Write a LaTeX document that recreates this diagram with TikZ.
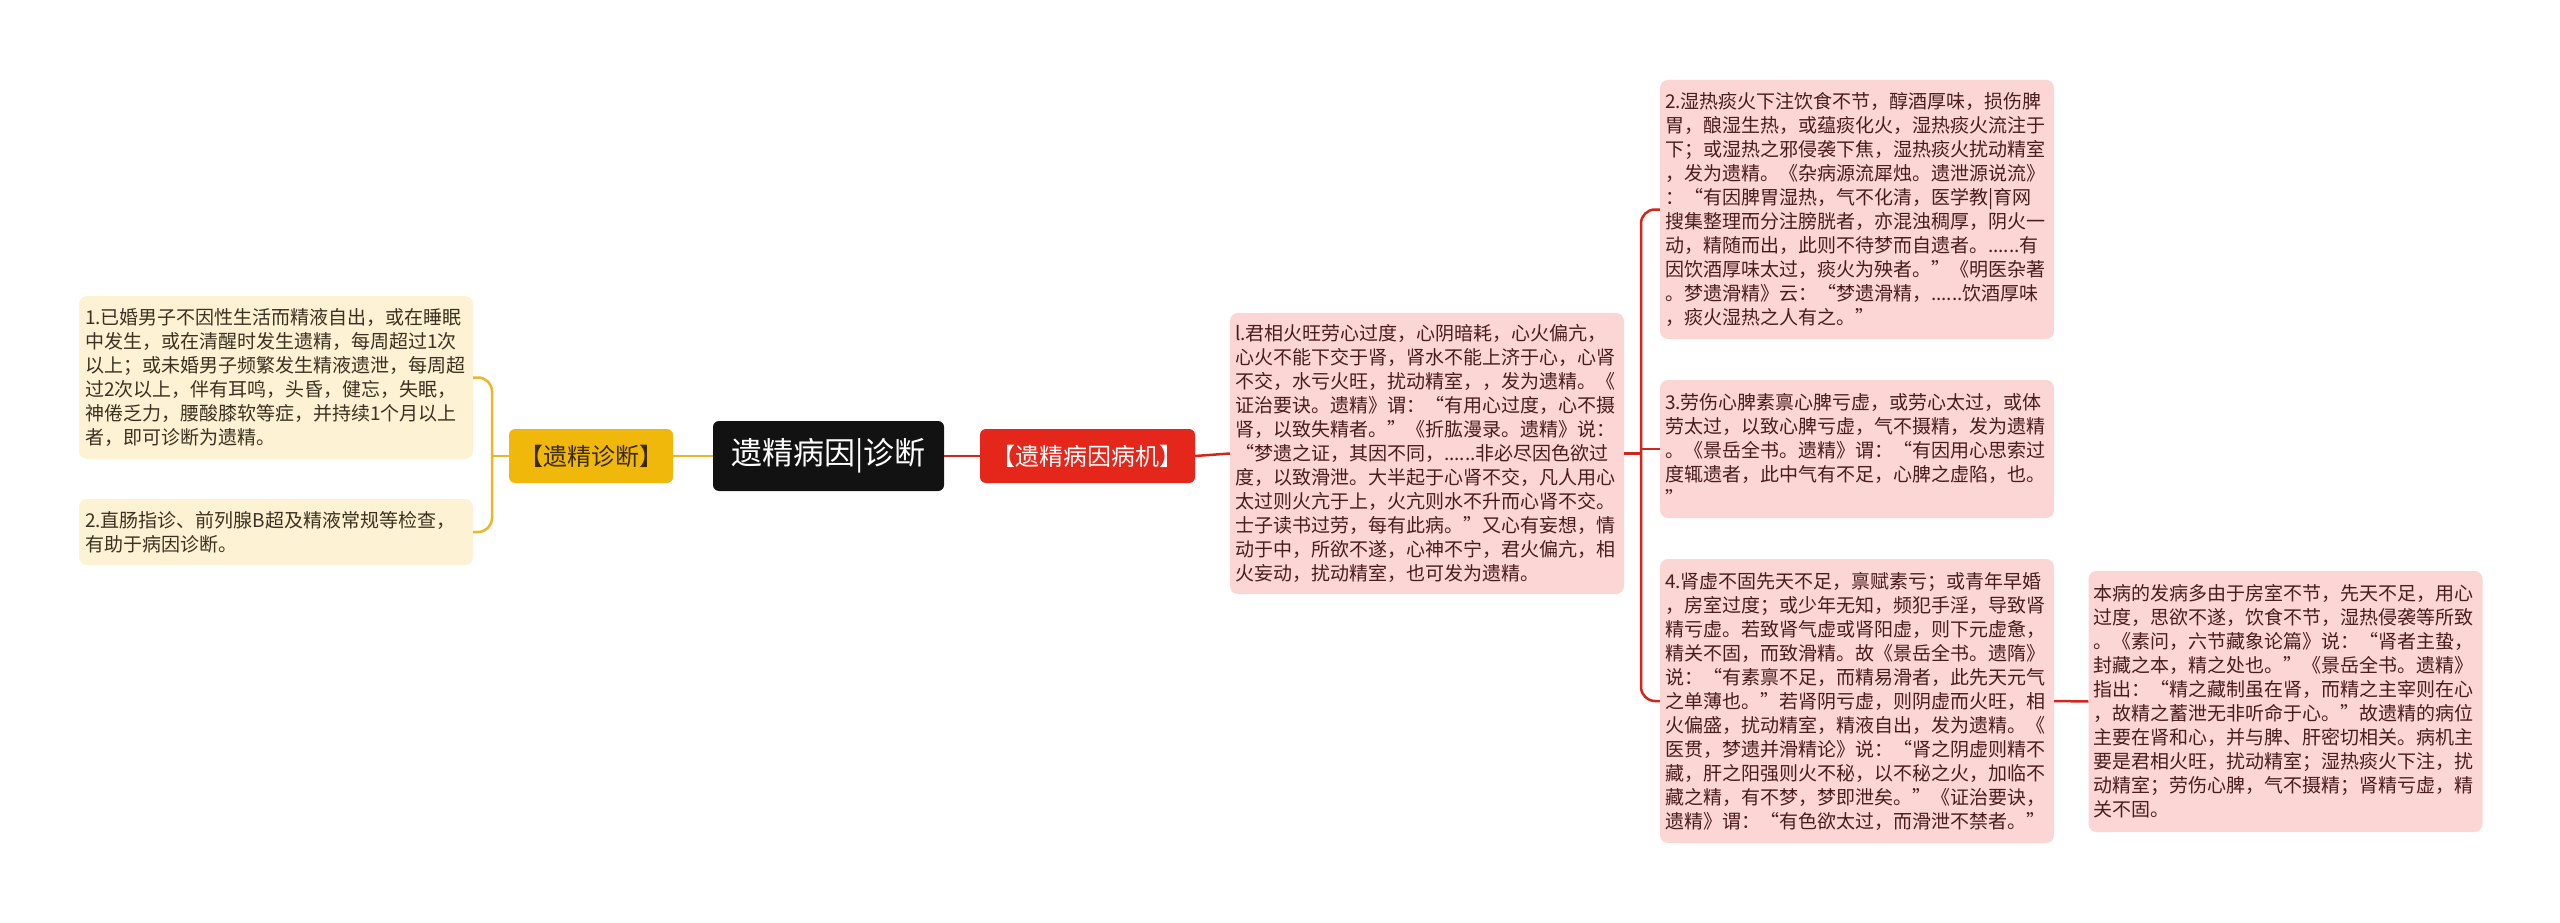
\documentclass[tikz,border=0pt]{standalone}
\usepackage{fontspec}
\setmainfont{Noto Sans CJK SC}
\definecolor{pinkf}{HTML}{FCD6D5}
\definecolor{pinkt}{HTML}{4A1D1D}
\definecolor{creamf}{HTML}{FDF2D4}
\definecolor{creamt}{HTML}{3B3220}
\definecolor{goldf}{HTML}{F1B80C}
\definecolor{goldt}{HTML}{3A2A05}
\definecolor{goldl}{HTML}{E9B727}
\definecolor{redf}{HTML}{E4261B}
\definecolor{redl}{HTML}{D1261D}
\definecolor{blackf}{HTML}{121212}
\tikzset{
  pbox/.style={fill=pinkf, rounded corners=8pt, text width=384pt, inner xsep=5pt, inner ysep=0pt, align=left, font=\fontsize{19}{24}\selectfont, text=pinkt},
  cbox/.style={fill=creamf, rounded corners=8pt, text width=382pt, inner xsep=6pt, inner ysep=0pt, align=left, font=\fontsize{19}{24}\selectfont, text=creamt},
  yline/.style={draw=goldl, line width=2.5pt},
  rline/.style={draw=redl, line width=2.5pt},
}
\begin{document}
\begin{tikzpicture}[x=1pt,y=-1pt]
\useasboundingbox[fill=white] (0,0) rectangle (2560,923);
% central
\node[fill=blackf, rounded corners=6pt, minimum width=231pt, minimum height=70pt, inner sep=0pt, text=white, font=\fontsize{31}{35}\selectfont] (C) at (828.5,456) {遗精病因|诊断};
\node[fill=goldf, rounded corners=6pt, minimum width=164pt, minimum height=54pt, inner sep=0pt, text=goldt, font=\fontsize{24}{28}\selectfont] (Y) at (591,456) {【遗精诊断】};
\node[fill=redf, rounded corners=6pt, minimum width=215pt, minimum height=54pt, inner sep=0pt, text=white, font=\fontsize{24}{28}\selectfont] (R) at (1087.5,456) {【遗精病因病机】};
% left boxes
\node[cbox, minimum height=163pt] (L1) at (276,377.5) {1.已婚男子不因性生活而精液自出，或在睡眠\\中发生，或在清醒时发生遗精，每周超过1次\\以上；或未婚男子频繁发生精液遗泄，每周超\\过2次以上，伴有耳鸣，头昏，健忘，失眠，\\神倦乏力，腰酸膝软等症，并持续1个月以上\\者，即可诊断为遗精。};
\node[cbox, minimum height=66pt] (L2) at (276,532) {2.直肠指诊、前列腺B超及精液常规等检查，\\有助于病因诊断。};
% right boxes
\node[pbox, minimum height=281pt] (B1) at (1427,453.5) {l.君相火旺劳心过度，心阴暗耗，心火偏亢，\\心火不能下交于肾，肾水不能上济于心，心肾\\不交，水亏火旺，扰动精室，，发为遗精。《\\证治要诀。遗精》谓：“有用心过度，心不摄\\肾，以致失精者。”《折肱漫录。遗精》说：\\“梦遗之证，其因不同，......非必尽因色欲过\\度，以致滑泄。大半起于心肾不交，凡人用心\\太过则火亢于上，火亢则水不升而心肾不交。\\士子读书过劳，每有此病。”又心有妄想，情\\动于中，所欲不遂，心神不宁，君火偏亢，相\\火妄动，扰动精室，也可发为遗精。};
\node[pbox, minimum height=259pt] (B2) at (1857,209.5) {2.湿热痰火下注饮食不节，醇酒厚味，损伤脾\\胃，酿湿生热，或蕴痰化火，湿热痰火流注于\\下；或湿热之邪侵袭下焦，湿热痰火扰动精室\\，发为遗精。《杂病源流犀烛。遗泄源说流》\\：“有因脾胃湿热，气不化清，医学教|育网\\搜集整理而分注膀胱者，亦混浊稠厚，阴火一\\动，精随而出，此则不待梦而自遗者。......有\\因饮酒厚味太过，痰火为殃者。”《明医杂著\\。梦遗滑精》云：“梦遗滑精，......饮酒厚味\\，痰火湿热之人有之。”};
\node[pbox, minimum height=138pt] (B3) at (1857,449) {3.劳伤心脾素禀心脾亏虚，或劳心太过，或体\\劳太过，以致心脾亏虚，气不摄精，发为遗精\\。《景岳全书。遗精》谓：“有因用心思索过\\度辄遗者，此中气有不足，心脾之虚陷，也。\\”};
\node[pbox, minimum height=284pt] (B4) at (1857,701) {4.肾虚不固先天不足，禀赋素亏；或青年早婚\\，房室过度；或少年无知，频犯手淫，导致肾\\精亏虚。若致肾气虚或肾阳虚，则下元虚惫，\\精关不固，而致滑精。故《景岳全书。遗隋》\\说：“有素禀不足，而精易滑者，此先天元气\\之单薄也。”若肾阴亏虚，则阴虚而火旺，相\\火偏盛，扰动精室，精液自出，发为遗精。《\\医贯，梦遗并滑精论》说：“肾之阴虚则精不\\藏，肝之阳强则火不秘，以不秘之火，加临不\\藏之精，有不梦，梦即泄矣。”《证治要诀，\\遗精》谓：“有色欲太过，而滑泄不禁者。”};
\node[pbox, minimum height=261pt] (BR) at (2285.5,701.5) {本病的发病多由于房室不节，先天不足，用心\\过度，思欲不遂，饮食不节，湿热侵袭等所致\\。《素问，六节藏象论篇》说：“肾者主蛰，\\封藏之本，精之处也。”《景岳全书。遗精》\\指出：“精之藏制虽在肾，而精之主宰则在心\\，故精之蓄泄无非听命于心。”故遗精的病位\\主要在肾和心，并与脾、肝密切相关。病机主\\要是君相火旺，扰动精室；湿热痰火下注，扰\\动精室；劳伤心脾，气不摄精；肾精亏虚，精\\关不固。};
% connectors
\coordinate (yj) at (492,456);
\coordinate (rj) at (1641,453.5);
\draw[yline] (C.west) -- (Y.east);
\draw[yline] (Y.west) -- (yj);
\draw[yline, rounded corners=14pt] (L1.east) -| (yj) |- (L2.east);
\draw[rline] (C.east) -- (R.west);
\draw[rline] (R.east) -- (B1.west);
\draw[rline] (B1.east) -- (rj);
\draw[rline, rounded corners=14pt] (B2.west) -| (rj) |- (B4.west);
\draw[rline] (rj |- B3.west) -- (B3.west);
\draw[rline] (B4.east) -- (BR.west);
\end{tikzpicture}
\end{document}
